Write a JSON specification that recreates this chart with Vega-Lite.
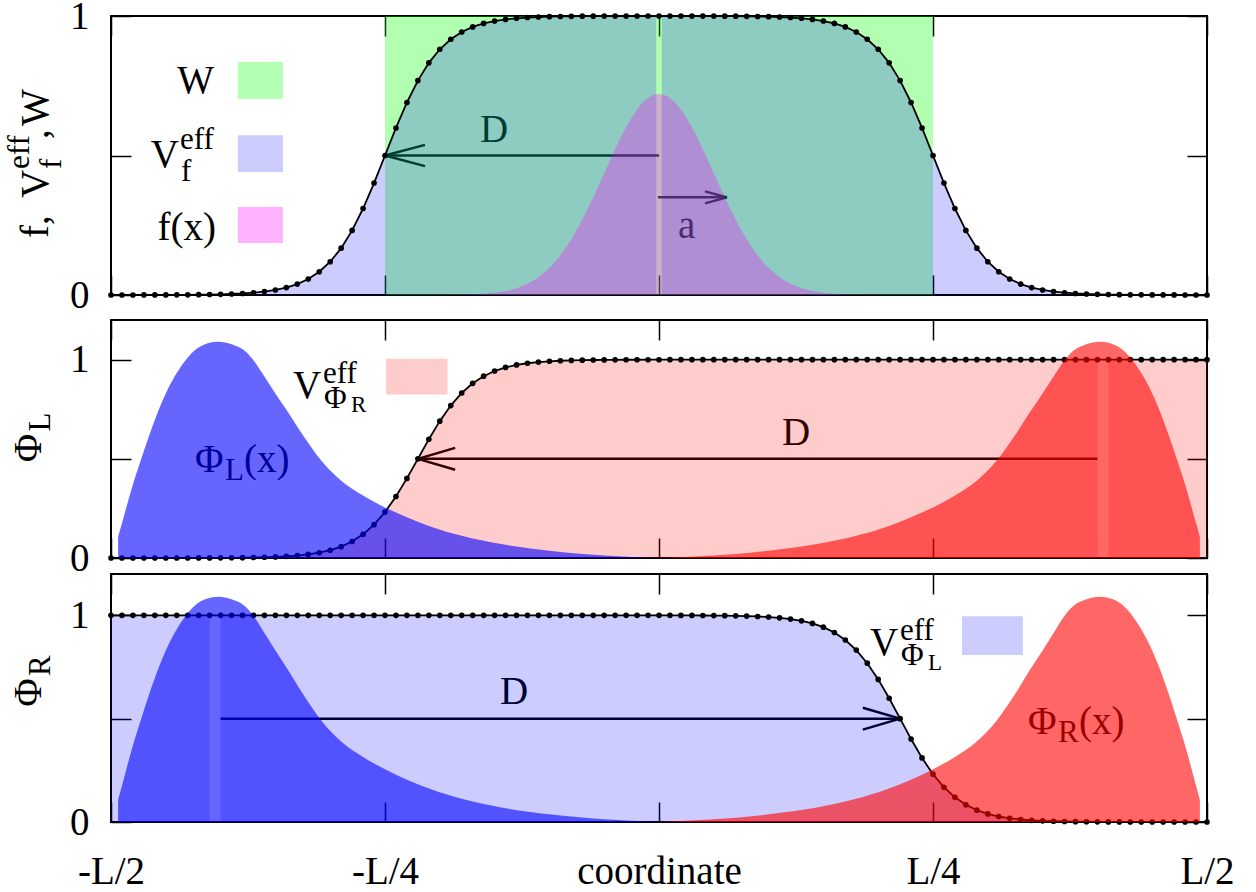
{
"$schema":"https://vega.github.io/schema/vega-lite/v6.json",
"background":"white",
"padding":{"left":3,"top":-4,"right":10,"bottom":0},
"config":{"view":{"stroke":"black","strokeWidth":2},"text":{"font":"Liberation Serif"}},
"datasets":{
"grid":[
{"x":-0.5,"vf":0,"vr":0,"vl":1,"f":0},
{"x":-0.49,"vf":0.0001,"vr":0,"vl":1,"f":0},
{"x":-0.48,"vf":0.0001,"vr":0,"vl":1,"f":0},
{"x":-0.47,"vf":0.0002,"vr":0,"vl":1,"f":0},
{"x":-0.46,"vf":0.0002,"vr":0.0001,"vl":1,"f":0},
{"x":-0.45,"vf":0.0003,"vr":0.0001,"vl":1,"f":0},
{"x":-0.44,"vf":0.0005,"vr":0.0002,"vl":1,"f":0},
{"x":-0.43,"vf":0.0007,"vr":0.0002,"vl":1,"f":0},
{"x":-0.42,"vf":0.0011,"vr":0.0003,"vl":1,"f":0},
{"x":-0.41,"vf":0.0017,"vr":0.0005,"vl":1,"f":0},
{"x":-0.4,"vf":0.0025,"vr":0.0007,"vl":1,"f":0},
{"x":-0.39,"vf":0.0037,"vr":0.0011,"vl":1,"f":0},
{"x":-0.38,"vf":0.0055,"vr":0.0017,"vl":1,"f":0},
{"x":-0.37,"vf":0.0082,"vr":0.0025,"vl":1,"f":0},
{"x":-0.36,"vf":0.0121,"vr":0.0037,"vl":1,"f":0},
{"x":-0.35,"vf":0.018,"vr":0.0055,"vl":1,"f":0},
{"x":-0.34,"vf":0.0266,"vr":0.0082,"vl":1,"f":0},
{"x":-0.33,"vf":0.0392,"vr":0.0121,"vl":1,"f":0},
{"x":-0.32,"vf":0.0573,"vr":0.018,"vl":1,"f":0},
{"x":-0.31,"vf":0.0832,"vr":0.0266,"vl":1,"f":0},
{"x":-0.3,"vf":0.1192,"vr":0.0392,"vl":1,"f":0},
{"x":-0.29,"vf":0.168,"vr":0.0573,"vl":1,"f":0},
{"x":-0.28,"vf":0.2315,"vr":0.0832,"vl":1,"f":0},
{"x":-0.27,"vf":0.31,"vr":0.1192,"vl":1,"f":0},
{"x":-0.26,"vf":0.4013,"vr":0.168,"vl":1,"f":0},
{"x":-0.25,"vf":0.5,"vr":0.2315,"vl":1,"f":0},
{"x":-0.24,"vf":0.5987,"vr":0.31,"vl":1,"f":0},
{"x":-0.23,"vf":0.69,"vr":0.4013,"vl":1,"f":0},
{"x":-0.22,"vf":0.7685,"vr":0.5,"vl":1,"f":0},
{"x":-0.21,"vf":0.832,"vr":0.5987,"vl":1,"f":0},
{"x":-0.2,"vf":0.8808,"vr":0.69,"vl":1,"f":0.0002},
{"x":-0.19,"vf":0.9168,"vr":0.7685,"vl":1,"f":0.0005},
{"x":-0.18,"vf":0.9427,"vr":0.832,"vl":1,"f":0.0011},
{"x":-0.17,"vf":0.9608,"vr":0.8808,"vl":1,"f":0.0022},
{"x":-0.16,"vf":0.9734,"vr":0.9168,"vl":1,"f":0.0043},
{"x":-0.15,"vf":0.982,"vr":0.9427,"vl":1,"f":0.008},
{"x":-0.14,"vf":0.9879,"vr":0.9608,"vl":1,"f":0.0143},
{"x":-0.13,"vf":0.9918,"vr":0.9734,"vl":1,"f":0.0245},
{"x":-0.12,"vf":0.9945,"vr":0.982,"vl":1,"f":0.0404},
{"x":-0.11,"vf":0.9963,"vr":0.9879,"vl":1,"f":0.064},
{"x":-0.1,"vf":0.9975,"vr":0.9918,"vl":1,"f":0.0974},
{"x":-0.09,"vf":0.9983,"vr":0.9945,"vl":1,"f":0.1425},
{"x":-0.08,"vf":0.9989,"vr":0.9963,"vl":1,"f":0.2002},
{"x":-0.07,"vf":0.9993,"vr":0.9975,"vl":1,"f":0.2702},
{"x":-0.06,"vf":0.9995,"vr":0.9983,"vl":1,"f":0.3505},
{"x":-0.05,"vf":0.9997,"vr":0.9989,"vl":1,"f":0.4367},
{"x":-0.04,"vf":0.9998,"vr":0.9993,"vl":1,"f":0.5228},
{"x":-0.03,"vf":0.9998,"vr":0.9995,"vl":1,"f":0.6014},
{"x":-0.02,"vf":0.9999,"vr":0.9997,"vl":0.9999,"f":0.6647},
{"x":-0.01,"vf":0.9999,"vr":0.9998,"vl":0.9999,"f":0.7057},
{"x":0,"vf":1,"vr":0.9998,"vl":0.9998,"f":0.72},
{"x":0.01,"vf":0.9999,"vr":0.9999,"vl":0.9998,"f":0.7057},
{"x":0.02,"vf":0.9999,"vr":0.9999,"vl":0.9997,"f":0.6647},
{"x":0.03,"vf":0.9998,"vr":1,"vl":0.9995,"f":0.6014},
{"x":0.04,"vf":0.9998,"vr":1,"vl":0.9993,"f":0.5228},
{"x":0.05,"vf":0.9997,"vr":1,"vl":0.9989,"f":0.4367},
{"x":0.06,"vf":0.9995,"vr":1,"vl":0.9983,"f":0.3505},
{"x":0.07,"vf":0.9993,"vr":1,"vl":0.9975,"f":0.2702},
{"x":0.08,"vf":0.9989,"vr":1,"vl":0.9963,"f":0.2002},
{"x":0.09,"vf":0.9983,"vr":1,"vl":0.9945,"f":0.1425},
{"x":0.1,"vf":0.9975,"vr":1,"vl":0.9918,"f":0.0974},
{"x":0.11,"vf":0.9963,"vr":1,"vl":0.9879,"f":0.064},
{"x":0.12,"vf":0.9945,"vr":1,"vl":0.982,"f":0.0404},
{"x":0.13,"vf":0.9918,"vr":1,"vl":0.9734,"f":0.0245},
{"x":0.14,"vf":0.9879,"vr":1,"vl":0.9608,"f":0.0143},
{"x":0.15,"vf":0.982,"vr":1,"vl":0.9427,"f":0.008},
{"x":0.16,"vf":0.9734,"vr":1,"vl":0.9168,"f":0.0043},
{"x":0.17,"vf":0.9608,"vr":1,"vl":0.8808,"f":0.0022},
{"x":0.18,"vf":0.9427,"vr":1,"vl":0.832,"f":0.0011},
{"x":0.19,"vf":0.9168,"vr":1,"vl":0.7685,"f":0.0005},
{"x":0.2,"vf":0.8808,"vr":1,"vl":0.69,"f":0.0002},
{"x":0.21,"vf":0.832,"vr":1,"vl":0.5987,"f":0},
{"x":0.22,"vf":0.7685,"vr":1,"vl":0.5,"f":0},
{"x":0.23,"vf":0.69,"vr":1,"vl":0.4013,"f":0},
{"x":0.24,"vf":0.5987,"vr":1,"vl":0.31,"f":0},
{"x":0.25,"vf":0.5,"vr":1,"vl":0.2315,"f":0},
{"x":0.26,"vf":0.4013,"vr":1,"vl":0.168,"f":0},
{"x":0.27,"vf":0.31,"vr":1,"vl":0.1192,"f":0},
{"x":0.28,"vf":0.2315,"vr":1,"vl":0.0832,"f":0},
{"x":0.29,"vf":0.168,"vr":1,"vl":0.0573,"f":0},
{"x":0.3,"vf":0.1192,"vr":1,"vl":0.0392,"f":0},
{"x":0.31,"vf":0.0832,"vr":1,"vl":0.0266,"f":0},
{"x":0.32,"vf":0.0573,"vr":1,"vl":0.018,"f":0},
{"x":0.33,"vf":0.0392,"vr":1,"vl":0.0121,"f":0},
{"x":0.34,"vf":0.0266,"vr":1,"vl":0.0082,"f":0},
{"x":0.35,"vf":0.018,"vr":1,"vl":0.0055,"f":0},
{"x":0.36,"vf":0.0121,"vr":1,"vl":0.0037,"f":0},
{"x":0.37,"vf":0.0082,"vr":1,"vl":0.0025,"f":0},
{"x":0.38,"vf":0.0055,"vr":1,"vl":0.0017,"f":0},
{"x":0.39,"vf":0.0037,"vr":1,"vl":0.0011,"f":0},
{"x":0.4,"vf":0.0025,"vr":1,"vl":0.0007,"f":0},
{"x":0.41,"vf":0.0017,"vr":1,"vl":0.0005,"f":0},
{"x":0.42,"vf":0.0011,"vr":1,"vl":0.0003,"f":0},
{"x":0.43,"vf":0.0007,"vr":1,"vl":0.0002,"f":0},
{"x":0.44,"vf":0.0005,"vr":1,"vl":0.0002,"f":0},
{"x":0.45,"vf":0.0003,"vr":1,"vl":0.0001,"f":0},
{"x":0.46,"vf":0.0002,"vr":1,"vl":0.0001,"f":0},
{"x":0.47,"vf":0.0002,"vr":1,"vl":0,"f":0},
{"x":0.48,"vf":0.0001,"vr":1,"vl":0,"f":0},
{"x":0.49,"vf":0.0001,"vr":1,"vl":0,"f":0},
{"x":0.5,"vf":0,"vr":1,"vl":0,"f":0},
{"x":-0.0025,"vf":1,"edge":true},
{"x":0.0025,"vf":1,"edge":true}
],
"phiL":[
{"x":-0.4935,"y":0.107},{"x":-0.49,"y":0.175},{"x":-0.485,"y":0.275},{"x":-0.48,"y":0.37},{"x":-0.473,"y":0.49},{"x":-0.465,"y":0.62},{"x":-0.457,"y":0.74},{"x":-0.45,"y":0.83},{"x":-0.442,"y":0.915},{"x":-0.433,"y":0.99},{"x":-0.424,"y":1.045},{"x":-0.413,"y":1.08},{"x":-0.402,"y":1.09},{"x":-0.39,"y":1.078},{"x":-0.378,"y":1.045},{"x":-0.369,"y":0.99},{"x":-0.36,"y":0.915},{"x":-0.35,"y":0.83},{"x":-0.339,"y":0.74},{"x":-0.325,"y":0.62},{"x":-0.308,"y":0.49},{"x":-0.29,"y":0.39},{"x":-0.27,"y":0.315},{"x":-0.25,"y":0.255},{"x":-0.23,"y":0.205},{"x":-0.208,"y":0.158},{"x":-0.18,"y":0.112},{"x":-0.144,"y":0.07},{"x":-0.1,"y":0.037},{"x":-0.05,"y":0.013},{"x":0,"y":0}
],
"phiR":[
{"x":0,"y":0},{"x":0.05,"y":0.013},{"x":0.1,"y":0.037},{"x":0.144,"y":0.07},{"x":0.18,"y":0.112},{"x":0.208,"y":0.158},{"x":0.23,"y":0.205},{"x":0.25,"y":0.255},{"x":0.27,"y":0.315},{"x":0.29,"y":0.39},{"x":0.308,"y":0.49},{"x":0.325,"y":0.62},{"x":0.339,"y":0.74},{"x":0.35,"y":0.83},{"x":0.36,"y":0.915},{"x":0.369,"y":0.99},{"x":0.378,"y":1.045},{"x":0.39,"y":1.078},{"x":0.402,"y":1.09},{"x":0.413,"y":1.08},{"x":0.424,"y":1.045},{"x":0.433,"y":0.99},{"x":0.442,"y":0.915},{"x":0.45,"y":0.83},{"x":0.457,"y":0.74},{"x":0.465,"y":0.62},{"x":0.473,"y":0.49},{"x":0.48,"y":0.37},{"x":0.485,"y":0.275},{"x":0.49,"y":0.175},{"x":0.4935,"y":0.107}
],
"boxes":[{"x":-0.25,"x2":0.25,"y":0,"y2":1}],
"arrows":[
{"panel":"top","x":0,"y":0.5,"x2":-0.25,"y2":0.5},
{"panel":"top","x":-0.25,"y":0.5,"x2":-0.2135,"y2":0.538},
{"panel":"top","x":-0.25,"y":0.5,"x2":-0.2135,"y2":0.462},
{"panel":"top","x":-0.001,"y":0.35,"x2":0.062,"y2":0.35},
{"panel":"top","x":0.062,"y":0.35,"x2":0.042,"y2":0.3715},
{"panel":"top","x":0.062,"y":0.35,"x2":0.042,"y2":0.3285},
{"panel":"mid","x":0.4,"y":0.5,"x2":-0.22,"y2":0.5},
{"panel":"mid","x":-0.22,"y":0.5,"x2":-0.186,"y2":0.555},
{"panel":"mid","x":-0.22,"y":0.5,"x2":-0.186,"y2":0.445},
{"panel":"bot","x":-0.4,"y":0.5,"x2":0.22,"y2":0.5},
{"panel":"bot","x":0.22,"y":0.5,"x2":0.186,"y2":0.553},
{"panel":"bot","x":0.22,"y":0.5,"x2":0.186,"y2":0.447}
],
"txtL":[
{"panel":"top","lvl":1,"text":"eff","x":-0.437,"y":0.5233},
{"panel":"top","lvl":1,"text":"f","x":-0.4361,"y":0.4086},
{"panel":"top","lvl":0,"text":"D","x":-0.1633,"y":0.548},
{"panel":"top","lvl":0,"text":"a","x":0.0173,"y":0.204},
{"panel":"mid","lvl":0,"text":"V","x":-0.3339,"y":0.809},
{"panel":"mid","lvl":1,"text":"eff","x":-0.3066,"y":0.8844},
{"panel":"mid","lvl":1,"text":"Φ","x":-0.3057,"y":0.7588},
{"panel":"mid","lvl":2,"text":"R","x":-0.281,"y":0.7337},
{"panel":"mid","lvl":0,"text":"Φ","x":-0.4234,"y":0.4322},
{"panel":"mid","lvl":1,"text":"L","x":-0.396,"y":0.392},
{"panel":"mid","lvl":0,"text":"(x)","x":-0.3786,"y":0.4322},
{"panel":"mid","lvl":0,"text":"D","x":0.1122,"y":0.57},
{"panel":"bot","lvl":0,"text":"V","x":0.1925,"y":0.8077},
{"panel":"bot","lvl":1,"text":"eff","x":0.2199,"y":0.8798},
{"panel":"bot","lvl":1,"text":"Φ","x":0.2208,"y":0.7596},
{"panel":"bot","lvl":2,"text":"L","x":0.2454,"y":0.7356},
{"panel":"bot","lvl":0,"text":"Φ","x":0.3367,"y":0.4279},
{"panel":"bot","lvl":1,"text":"R","x":0.3641,"y":0.3894},
{"panel":"bot","lvl":0,"text":"(x)","x":0.3832,"y":0.4279},
{"panel":"bot","lvl":0,"text":"D","x":-0.1451,"y":0.5721}
],
"txtR":[
{"panel":"top","lvl":0,"text":"W","x":-0.406,"y":0.724},
{"panel":"top","lvl":0,"text":"V","x":-0.438,"y":0.4588},
{"panel":"top","lvl":0,"text":"f(x)","x":-0.4042,"y":0.197}
],
"ytxt":[
{"panel":"top","lvl":0,"text":"f,","x":-0.5575,"y":0.2043},
{"panel":"top","lvl":0,"text":"V","x":-0.5575,"y":0.3477},
{"panel":"top","lvl":1,"text":"eff","x":-0.5748,"y":0.4516},
{"panel":"top","lvl":1,"text":"f","x":-0.5456,"y":0.4516},
{"panel":"top","lvl":0,"text":",","x":-0.5575,"y":0.5591},
{"panel":"top","lvl":0,"text":"W","x":-0.5575,"y":0.6057},
{"panel":"mid","lvl":0,"text":"Φ","x":-0.5639,"y":0.4824},
{"panel":"mid","lvl":1,"text":"L","x":-0.5557,"y":0.6382},
{"panel":"bot","lvl":0,"text":"Φ","x":-0.5639,"y":0.5577},
{"panel":"bot","lvl":1,"text":"R","x":-0.5557,"y":0.7067}
],
"swatches":[
{"panel":"top","key":"W","x":-0.3843,"x2":-0.3431,"y":0.7025,"y2":0.835},
{"panel":"top","key":"Vf","x":-0.3843,"x2":-0.3431,"y":0.441,"y2":0.573},
{"panel":"top","key":"f","x":-0.3843,"x2":-0.3431,"y":0.186,"y2":0.315},
{"panel":"mid","key":"VphiR","x":-0.249,"x2":-0.193,"y":0.824,"y2":1.005},
{"panel":"bot","key":"VphiL","x":0.2765,"x2":0.332,"y":0.808,"y2":0.995}
]
},
"spacing":25,
"bounds":"flush",
"vconcat":[
{
"width":1096,"height":279,
"resolve":{"axis":{"x":"independent","y":"independent"}},
"layer":[
{"data":{"name":"arrows"},"transform":[{"filter":"datum.panel == 'top'"}],
 "mark":{"type":"rule","color":"black","strokeWidth":2.5},
 "encoding":{
  "x":{"field":"x","type":"quantitative","scale":{"domain":[-0.5,0.5],"nice":false,"zero":false},
   "axis":{"orient":"bottom","values":[-0.5,-0.25,0,0.25,0.5],"labels":false,"tickSize":-20,"tickWidth":1.5,"tickColor":"black","domain":false,"grid":false,"title":null,"zindex":0}},
  "x2":{"field":"x2"},
  "y":{"field":"y","type":"quantitative","scale":{"domain":[0,1],"nice":false,"zero":false},
   "axis":{"orient":"left","values":[0,0.5,1],"labelExpr":"datum.value == 0 ? '0' : datum.value == 1 ? '1' : ''","tickSize":-20,"tickWidth":1.5,"tickColor":"black","domain":false,"grid":false,"title":null,"zindex":0,"labelFont":"Liberation Serif","labelFontSize":39,"labelColor":"black","labelPadding":42,"labelOverlap":false,"labelFlush":false}},
  "y2":{"field":"y2"}}},
{"data":{"name":"txtL"},"transform":[{"filter":"datum.panel == 'top'"}],
 "mark":{"type":"text","align":"left","baseline":"alphabetic","font":"Liberation Serif","color":"black"},
 "encoding":{
  "x":{"field":"x","type":"quantitative","scale":{"domain":[-0.5,0.5],"nice":false,"zero":false},"axis":null},
  "y":{"field":"y","type":"quantitative","scale":{"domain":[0,1],"nice":false,"zero":false},"axis":null},
  "text":{"field":"text"},
  "size":{"field":"lvl","type":"quantitative","scale":{"domain":[0,1],"range":[39,31],"zero":false,"nice":false,"clamp":false},"legend":null}}},
{"data":{"name":"txtR"},"transform":[{"filter":"datum.panel == 'top'"}],
 "mark":{"type":"text","align":"right","baseline":"alphabetic","font":"Liberation Serif","color":"black"},
 "encoding":{
  "x":{"field":"x","type":"quantitative","scale":{"domain":[-0.5,0.5],"nice":false,"zero":false},"axis":null},
  "y":{"field":"y","type":"quantitative","scale":{"domain":[0,1],"nice":false,"zero":false},"axis":null},
  "text":{"field":"text"},
  "size":{"field":"lvl","type":"quantitative","scale":{"domain":[0,1],"range":[39,31],"zero":false,"nice":false,"clamp":false},"legend":null}}},
{"data":{"name":"ytxt"},"transform":[{"filter":"datum.panel == 'top'"}],
 "mark":{"type":"text","align":"left","baseline":"alphabetic","angle":270,"font":"Liberation Serif","color":"black"},
 "encoding":{
  "x":{"field":"x","type":"quantitative","scale":{"domain":[-0.5,0.5],"nice":false,"zero":false},"axis":null},
  "y":{"field":"y","type":"quantitative","scale":{"domain":[0,1],"nice":false,"zero":false},"axis":null},
  "text":{"field":"text"},
  "size":{"field":"lvl","type":"quantitative","scale":{"domain":[0,1],"range":[39,31],"zero":false,"nice":false,"clamp":false},"legend":null}}},
{"data":{"name":"boxes"},
 "mark":{"type":"rect","color":"#00ff00","opacity":0.3},
 "encoding":{
  "x":{"field":"x","type":"quantitative","scale":{"domain":[-0.5,0.5],"nice":false,"zero":false},
   "axis":{"orient":"top","values":[-0.5,-0.25,0,0.25,0.5],"labels":false,"tickSize":-20,"tickWidth":1.5,"tickColor":"black","domain":false,"grid":false,"title":null,"zindex":0}},
  "x2":{"field":"x2"},
  "y":{"field":"y","type":"quantitative","scale":{"domain":[0,1],"nice":false,"zero":false},
   "axis":{"orient":"right","values":[0,0.5,1],"labels":false,"tickSize":-20,"tickWidth":1.5,"tickColor":"black","domain":false,"grid":false,"title":null,"zindex":0}},
  "y2":{"field":"y2"}}},
{"data":{"name":"grid"},"transform":[{"filter":"datum.x <= -0.0025"}],
 "mark":{"type":"area","color":"#0000ff","opacity":0.2},
 "encoding":{
  "x":{"field":"x","type":"quantitative","scale":{"domain":[-0.5,0.5],"nice":false,"zero":false},"axis":null},
  "y":{"field":"vf","type":"quantitative","scale":{"domain":[0,1],"nice":false,"zero":false},"axis":null}}},
{"data":{"name":"grid"},"transform":[{"filter":"datum.x >= 0.0025"}],
 "mark":{"type":"area","color":"#0000ff","opacity":0.2},
 "encoding":{
  "x":{"field":"x","type":"quantitative","scale":{"domain":[-0.5,0.5],"nice":false,"zero":false},"axis":null},
  "y":{"field":"vf","type":"quantitative","scale":{"domain":[0,1],"nice":false,"zero":false},"axis":null}}},
{"data":{"name":"grid"},"transform":[{"filter":"!datum.edge"}],
 "mark":{"type":"line","color":"black","strokeWidth":1.8,"point":{"filled":true,"color":"black","size":32,"opacity":1}},
 "encoding":{
  "x":{"field":"x","type":"quantitative","scale":{"domain":[-0.5,0.5],"nice":false,"zero":false},"axis":null},
  "y":{"field":"vf","type":"quantitative","scale":{"domain":[0,1],"nice":false,"zero":false},"axis":null}}},
{"data":{"name":"grid"},"transform":[{"filter":"!datum.edge && datum.x >= -0.2 && datum.x <= 0.2"}],
 "mark":{"type":"area","color":"#ff00ff","opacity":0.3,"interpolate":"monotone"},
 "encoding":{
  "x":{"field":"x","type":"quantitative","scale":{"domain":[-0.5,0.5],"nice":false,"zero":false},"axis":null},
  "y":{"field":"f","type":"quantitative","scale":{"domain":[0,1],"nice":false,"zero":false},"axis":null}}},
{"data":{"name":"swatches"},"transform":[{"filter":"datum.panel == 'top'"}],
 "mark":{"type":"rect","opacity":1},
 "encoding":{
  "x":{"field":"x","type":"quantitative","scale":{"domain":[-0.5,0.5],"nice":false,"zero":false},"axis":null},
  "x2":{"field":"x2"},
  "y":{"field":"y","type":"quantitative","scale":{"domain":[0,1],"nice":false,"zero":false},"axis":null},
  "y2":{"field":"y2"},
  "color":{"field":"key","type":"nominal","scale":{"domain":["W","Vf","f","VphiR","VphiL"],"range":["#b3ffb3","#ccccff","#ffb3ff","#ffcccc","#ccccff"]},"legend":null}}}
]
},
{
"spacing":16,
"bounds":"flush",
"vconcat":[
{
"width":1096,"height":238,
"resolve":{"axis":{"x":"independent","y":"independent"}},
"layer":[
{"data":{"name":"arrows"},"transform":[{"filter":"datum.panel == 'mid'"}],
 "mark":{"type":"rule","color":"black","strokeWidth":2.5},
 "encoding":{
  "x":{"field":"x","type":"quantitative","scale":{"domain":[-0.5,0.5],"nice":false,"zero":false},
   "axis":{"orient":"bottom","values":[-0.5,-0.25,0,0.25,0.5],"labels":false,"tickSize":-20,"tickWidth":1.5,"tickColor":"black","domain":false,"grid":false,"title":null,"zindex":0}},
  "x2":{"field":"x2"},
  "y":{"field":"y","type":"quantitative","scale":{"domain":[0,1.2],"nice":false,"zero":false},
   "axis":{"orient":"left","values":[0,0.5,1],"labelExpr":"datum.value == 0 ? '0' : datum.value == 1 ? '1' : ''","tickSize":-20,"tickWidth":1.5,"tickColor":"black","domain":false,"grid":false,"title":null,"zindex":0,"labelFont":"Liberation Serif","labelFontSize":39,"labelColor":"black","labelPadding":42,"labelOverlap":false,"labelFlush":false}},
  "y2":{"field":"y2"}}},
{"data":{"name":"txtL"},"transform":[{"filter":"datum.panel == 'mid'"}],
 "mark":{"type":"text","align":"left","baseline":"alphabetic","font":"Liberation Serif","color":"black"},
 "encoding":{
  "x":{"field":"x","type":"quantitative","scale":{"domain":[-0.5,0.5],"nice":false,"zero":false},"axis":null},
  "y":{"field":"y","type":"quantitative","scale":{"domain":[0,1.2],"nice":false,"zero":false},"axis":null},
  "text":{"field":"text"},
  "size":{"field":"lvl","type":"quantitative","scale":{"domain":[0,1],"range":[39,31],"zero":false,"nice":false,"clamp":false},"legend":null}}},
{"data":{"name":"ytxt"},"transform":[{"filter":"datum.panel == 'mid'"}],
 "mark":{"type":"text","align":"left","baseline":"alphabetic","angle":270,"font":"Liberation Serif","color":"black"},
 "encoding":{
  "x":{"field":"x","type":"quantitative","scale":{"domain":[-0.5,0.5],"nice":false,"zero":false},"axis":null},
  "y":{"field":"y","type":"quantitative","scale":{"domain":[0,1.2],"nice":false,"zero":false},"axis":null},
  "text":{"field":"text"},
  "size":{"field":"lvl","type":"quantitative","scale":{"domain":[0,1],"range":[39,31],"zero":false,"nice":false,"clamp":false},"legend":null}}},
{"data":{"name":"grid"},"transform":[{"filter":"!datum.edge && datum.x <= 0.4"}],
 "mark":{"type":"area","color":"#ff0000","opacity":0.2},
 "encoding":{
  "x":{"field":"x","type":"quantitative","scale":{"domain":[-0.5,0.5],"nice":false,"zero":false},
   "axis":{"orient":"top","values":[-0.5,-0.25,0,0.25,0.5],"labels":false,"tickSize":-20,"tickWidth":1.5,"tickColor":"black","domain":false,"grid":false,"title":null,"zindex":0}},
  "y":{"field":"vr","type":"quantitative","scale":{"domain":[0,1.2],"nice":false,"zero":false},
   "axis":{"orient":"right","values":[0,0.5,1],"labels":false,"tickSize":-20,"tickWidth":1.5,"tickColor":"black","domain":false,"grid":false,"title":null,"zindex":0}}}},
{"data":{"name":"grid"},"transform":[{"filter":"!datum.edge && datum.x >= 0.41"}],
 "mark":{"type":"area","color":"#ff0000","opacity":0.2},
 "encoding":{
  "x":{"field":"x","type":"quantitative","scale":{"domain":[-0.5,0.5],"nice":false,"zero":false},"axis":null},
  "y":{"field":"vr","type":"quantitative","scale":{"domain":[0,1.2],"nice":false,"zero":false},"axis":null}}},
{"data":{"name":"grid"},"transform":[{"filter":"!datum.edge"}],
 "mark":{"type":"line","color":"black","strokeWidth":1.8,"point":{"filled":true,"color":"black","size":32,"opacity":1}},
 "encoding":{
  "x":{"field":"x","type":"quantitative","scale":{"domain":[-0.5,0.5],"nice":false,"zero":false},"axis":null},
  "y":{"field":"vr","type":"quantitative","scale":{"domain":[0,1.2],"nice":false,"zero":false},"axis":null}}},
{"data":{"name":"phiL"},
 "mark":{"type":"area","color":"#0000ff","opacity":0.6,"interpolate":"monotone"},
 "encoding":{
  "x":{"field":"x","type":"quantitative","scale":{"domain":[-0.5,0.5],"nice":false,"zero":false},"axis":null},
  "y":{"field":"y","type":"quantitative","scale":{"domain":[0,1.2],"nice":false,"zero":false},"axis":null}}},
{"data":{"name":"phiR"},
 "mark":{"type":"area","color":"#ff0000","opacity":0.6,"interpolate":"monotone"},
 "encoding":{
  "x":{"field":"x","type":"quantitative","scale":{"domain":[-0.5,0.5],"nice":false,"zero":false},"axis":null},
  "y":{"field":"y","type":"quantitative","scale":{"domain":[0,1.2],"nice":false,"zero":false},"axis":null}}},
{"data":{"name":"swatches"},"transform":[{"filter":"datum.panel == 'mid'"}],
 "mark":{"type":"rect","opacity":1},
 "encoding":{
  "x":{"field":"x","type":"quantitative","scale":{"domain":[-0.5,0.5],"nice":false,"zero":false},"axis":null},
  "x2":{"field":"x2"},
  "y":{"field":"y","type":"quantitative","scale":{"domain":[0,1.2],"nice":false,"zero":false},"axis":null},
  "y2":{"field":"y2"},
  "color":{"field":"key","type":"nominal","scale":{"domain":["W","Vf","f","VphiR","VphiL"],"range":["#b3ffb3","#ccccff","#ffb3ff","#ffcccc","#ccccff"]},"legend":null}}}
]
},
{
"width":1096,"height":248,
"resolve":{"axis":{"x":"independent","y":"independent"}},
"layer":[
{"data":{"name":"arrows"},"transform":[{"filter":"datum.panel == 'bot'"}],
 "mark":{"type":"rule","color":"black","strokeWidth":2.5},
 "encoding":{
  "x":{"field":"x","type":"quantitative","scale":{"domain":[-0.5,0.5],"nice":false,"zero":false},
   "axis":{"orient":"bottom","values":[-0.5,-0.25,0,0.25,0.5],"labelExpr":"datum.value == -0.5 ? '-L/2' : datum.value == -0.25 ? '-L/4' : datum.value == 0 ? 'coordinate' : datum.value == 0.25 ? 'L/4' : 'L/2'","tickSize":-20,"tickWidth":1.5,"tickColor":"black","domain":false,"grid":false,"title":null,"zindex":0,"labelFont":"Liberation Serif","labelFontSize":39,"labelColor":"black","labelPadding":50,"labelOverlap":false,"labelFlush":false}},
  "x2":{"field":"x2"},
  "y":{"field":"y","type":"quantitative","scale":{"domain":[0,1.2],"nice":false,"zero":false},
   "axis":{"orient":"left","values":[0,0.5,1],"labelExpr":"datum.value == 0 ? '0' : datum.value == 1 ? '1' : ''","tickSize":-20,"tickWidth":1.5,"tickColor":"black","domain":false,"grid":false,"title":null,"zindex":0,"labelFont":"Liberation Serif","labelFontSize":39,"labelColor":"black","labelPadding":42,"labelOverlap":false,"labelFlush":false}},
  "y2":{"field":"y2"}}},
{"data":{"name":"txtL"},"transform":[{"filter":"datum.panel == 'bot'"}],
 "mark":{"type":"text","align":"left","baseline":"alphabetic","font":"Liberation Serif","color":"black"},
 "encoding":{
  "x":{"field":"x","type":"quantitative","scale":{"domain":[-0.5,0.5],"nice":false,"zero":false},"axis":null},
  "y":{"field":"y","type":"quantitative","scale":{"domain":[0,1.2],"nice":false,"zero":false},"axis":null},
  "text":{"field":"text"},
  "size":{"field":"lvl","type":"quantitative","scale":{"domain":[0,1],"range":[39,31],"zero":false,"nice":false,"clamp":false},"legend":null}}},
{"data":{"name":"ytxt"},"transform":[{"filter":"datum.panel == 'bot'"}],
 "mark":{"type":"text","align":"left","baseline":"alphabetic","angle":270,"font":"Liberation Serif","color":"black"},
 "encoding":{
  "x":{"field":"x","type":"quantitative","scale":{"domain":[-0.5,0.5],"nice":false,"zero":false},"axis":null},
  "y":{"field":"y","type":"quantitative","scale":{"domain":[0,1.2],"nice":false,"zero":false},"axis":null},
  "text":{"field":"text"},
  "size":{"field":"lvl","type":"quantitative","scale":{"domain":[0,1],"range":[39,31],"zero":false,"nice":false,"clamp":false},"legend":null}}},
{"data":{"name":"grid"},"transform":[{"filter":"!datum.edge && datum.x <= -0.41"}],
 "mark":{"type":"area","color":"#0000ff","opacity":0.2},
 "encoding":{
  "x":{"field":"x","type":"quantitative","scale":{"domain":[-0.5,0.5],"nice":false,"zero":false},
   "axis":{"orient":"top","values":[-0.5,-0.25,0,0.25,0.5],"labels":false,"tickSize":-20,"tickWidth":1.5,"tickColor":"black","domain":false,"grid":false,"title":null,"zindex":0}},
  "y":{"field":"vl","type":"quantitative","scale":{"domain":[0,1.2],"nice":false,"zero":false},
   "axis":{"orient":"right","values":[0,0.5,1],"labels":false,"tickSize":-20,"tickWidth":1.5,"tickColor":"black","domain":false,"grid":false,"title":null,"zindex":0}}}},
{"data":{"name":"grid"},"transform":[{"filter":"!datum.edge && datum.x >= -0.4"}],
 "mark":{"type":"area","color":"#0000ff","opacity":0.2},
 "encoding":{
  "x":{"field":"x","type":"quantitative","scale":{"domain":[-0.5,0.5],"nice":false,"zero":false},"axis":null},
  "y":{"field":"vl","type":"quantitative","scale":{"domain":[0,1.2],"nice":false,"zero":false},"axis":null}}},
{"data":{"name":"grid"},"transform":[{"filter":"!datum.edge"}],
 "mark":{"type":"line","color":"black","strokeWidth":1.8,"point":{"filled":true,"color":"black","size":32,"opacity":1}},
 "encoding":{
  "x":{"field":"x","type":"quantitative","scale":{"domain":[-0.5,0.5],"nice":false,"zero":false},"axis":null},
  "y":{"field":"vl","type":"quantitative","scale":{"domain":[0,1.2],"nice":false,"zero":false},"axis":null}}},
{"data":{"name":"phiL"},
 "mark":{"type":"area","color":"#0000ff","opacity":0.6,"interpolate":"monotone"},
 "encoding":{
  "x":{"field":"x","type":"quantitative","scale":{"domain":[-0.5,0.5],"nice":false,"zero":false},"axis":null},
  "y":{"field":"y","type":"quantitative","scale":{"domain":[0,1.2],"nice":false,"zero":false},"axis":null}}},
{"data":{"name":"phiR"},
 "mark":{"type":"area","color":"#ff0000","opacity":0.6,"interpolate":"monotone"},
 "encoding":{
  "x":{"field":"x","type":"quantitative","scale":{"domain":[-0.5,0.5],"nice":false,"zero":false},"axis":null},
  "y":{"field":"y","type":"quantitative","scale":{"domain":[0,1.2],"nice":false,"zero":false},"axis":null}}},
{"data":{"name":"swatches"},"transform":[{"filter":"datum.panel == 'bot'"}],
 "mark":{"type":"rect","opacity":1},
 "encoding":{
  "x":{"field":"x","type":"quantitative","scale":{"domain":[-0.5,0.5],"nice":false,"zero":false},"axis":null},
  "x2":{"field":"x2"},
  "y":{"field":"y","type":"quantitative","scale":{"domain":[0,1.2],"nice":false,"zero":false},"axis":null},
  "y2":{"field":"y2"},
  "color":{"field":"key","type":"nominal","scale":{"domain":["W","Vf","f","VphiR","VphiL"],"range":["#b3ffb3","#ccccff","#ffb3ff","#ffcccc","#ccccff"]},"legend":null}}}
]
}
]
}
]
}
